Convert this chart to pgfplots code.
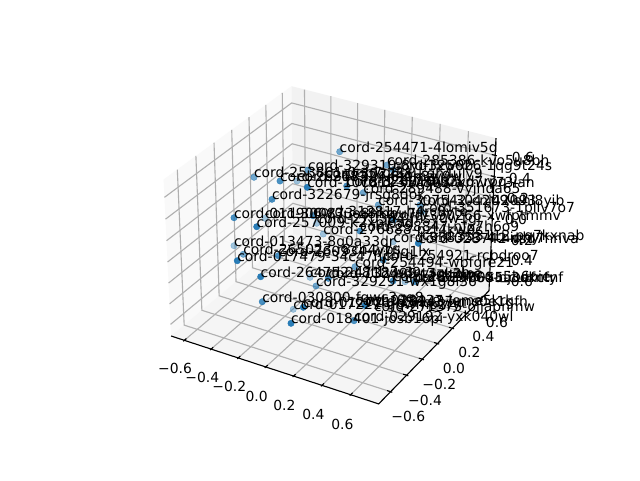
\documentclass[border=0pt]{standalone}
\usepackage{fontspec}
\setmainfont{DejaVu Sans}
\usepackage{pgfplots}
\usepackage{pgfplotstable}
\pgfplotsset{compat=1.18}
\definecolor{tabblue}{HTML}{1F77B4}
\definecolor{gridc}{HTML}{B0B0B0}
% Scatter points: pixel x, pixel y, label. One table per depth shade.
\pgfplotstableread{
x y label
237.3 260.7 cord-017479-34c47hjk
256.7 226.7 cord-257009-k2xpl6ad
260.7 276.7 cord-264752-c8t1vw3r
291 323.3 cord-018401-josb16pi
303.3 307.3 cord-012721-d5nq8yzu
307.3 187.3 cord-107812-ywnjh3ia
365 305.5 cord-292437-ms0e1gfh
418.3 243.3 cord-028742-vsd7hnva
}\ptsA
\pgfplotstableread{
x y label
280 181 cord-263172-hv8xtk3y
272 199.3 cord-322679-jrsg8dok
234 217.7 cord-011906-z3uo8nkq
313 215.7 cord-312817-h4rc9vte
360 231 cord-298847-nfx7h6o9
278.3 255.7 cord-260934-w7fjq1lx
383.3 260 cord-254921-rcbdroo7
328.3 278.3 cord-132495-t7gk2lpe
393 281 cord-281946-xa5b6oie
415 281.7 cord-346055-cutfntnf
262.3 301.7 cord-030800-fqwc3qq8
354 320.7 cord-029192-yxk040wl
346.7 186 cord-328910-b2kd7rpq
393.3 220 cord-390266-xwfptmmv
}\ptsB
\pgfplotstableread{
x y label
339.7 151.7 cord-254471-4lomiv5d
254 177.3 cord-253801-0ab7ql2x
308 170 cord-329310-8yd1xw9b
387 165 cord-285386-kvo5u8bh
393 170 cord-325626-1qg9t24s
363.3 192.7 cord-289488-vyjnda65
378.3 205 cord-307542-cnj42093
420 205 cord-304209-ehl8yib
421.7 211.7 cord-351673-1pllv7o7
243.3 254.3 cord-265023-r8cn4ybs
355 266.7 cord-254494-wbfgre21
316 286 cord-329291-wx1g8i36
}\ptsC
\pgfplotstableread{
x y label
297 181 cord-268324-6f0mzy9w
265 218.3 cord-300873-q8mbu7fy
316.7 223.3 cord-270364-msy0w1gj
323.3 234 cord-276688-pzt4kw0c
234 245.7 cord-013473-8q0a33dr
393.3 241.7 cord-338353-4thiqhyl
310 277.3 cord-247183-d9vszuab
405 281.7 cord-319760-nj3ekcfy
293.3 309.3 cord-017221-g6wmo2ry
}\ptsD
% Texts standing at their positions with no visible point of their own.
\pgfplotstableread{
x y label
325 178 cord-302251-kqh4uly9
361 187 cord-317809-wmvv73ian
422 240 cord-353112-pq7kxnab
355 304.5 cord-028437-lome5krk
374 311 cord-271375-ojjapnmw
}\ptsE
\pgfplotstableread{
x y label
175 368 −0.6
202.3 377 −0.4
229.3 386 −0.2
256.7 396 0.0
284.3 405.3 0.2
313.3 414 0.4
342.3 424 0.6
408.3 416.7 −0.6
425 400 −0.4
439.3 384.3 −0.2
454 368.3 0.0
469.3 352.3 0.2
483.3 336.7 0.4
497 322 0.6
516 281 −0.6
516 260 −0.4
516 240 −0.2
516 219 0.0
518 198 0.2
520 178 0.4
523 157 0.6
}\ticklabels
\newcommand\pj[4]{%
\pgfmathsetmacro\qx{.5952*(#1)}\pgfmathsetmacro\qy{.5952*(#2)}\pgfmathsetmacro\qz{.4464*(#3)}%
\pgfmathsetmacro\dd{10-(.433013*\qx-.75*\qy+.5*\qz)}%
\pgfmathsetmacro\px{333+1997.8*(.866025*\qx+.5*\qy)/\dd}%
\pgfmathsetmacro\py{237.4-1997.8*(-.25*\qx+.433013*\qy+.866025*\qz)/\dd}%
\expandafter\xdef\csname #4\endcsname{(\px,\py)}}
\newcommand\polyl[7]{\pj{#2}{#3}{#4}{ptA}\pj{#5}{#6}{#7}{ptB}%
\edef\temp{\noexpand\addplot[#1] coordinates {\ptA\ptB};}\temp}
\newcommand\polyt[4]{\pj#2{ptA}\pj#3{ptB}\pj#4{ptC}%
\edef\temp{\noexpand\addplot[#1] coordinates {\ptA\ptB\ptC};}\temp}
\newcommand\scatterpts[2]{\addplot[only marks, mark=*, mark size=3.2pt,
  mark options={draw=tabblue, fill=tabblue, opacity=#2}] table[x=x,y=y] {#1};}
\newcommand\labs[1]{\addplot[draw=none, mark=none, point meta=explicit symbolic,
  nodes near coords, nodes near coords style={anchor=base west, inner sep=0pt, outer sep=0pt, text=black, yshift=-0.5pt}]
  table[x=x,y=y,meta=label] {#1};}
\begin{document}
\begin{tikzpicture}[x=1pt,y=1pt]
\path[use as bounding box, fill=white] (0,0) rectangle (640,480);
\begin{axis}[at={(0,0)}, anchor=south west, scale only axis, width=640pt, height=480pt,
  hide axis, xmin=0, xmax=640, ymin=0, ymax=480, y dir=reverse, clip=false,
  every axis plot/.append style={line cap=butt},
  font=\fontsize{13.89}{16}\selectfont]
\addplot[fill=black!2.5, draw=none] coordinates {(171.1,336)(293.2,233.8)(291.5,86.2)(163.6,179.5)} --cycle;
\addplot[fill=black!5, draw=none] coordinates {(293.2,233.8)(489,290.7)(496,138.1)(291.5,86.2)} --cycle;
\addplot[fill=black!3.75, draw=none] coordinates {(171.1,336)(378.7,403.9)(489,290.7)(293.2,233.8)} --cycle;
\pgfplotsinvokeforeach{-.8666,-.5985,-.3304,-.0623,.2057,.4738,.7420}{
  \polyt{gridc,line width=1.11pt}{{#1}{-1}{-1}}{{#1}{1}{-1}}{{#1}{1}{1}}
}
\pgfplotsinvokeforeach{-.802,-.5277,-.2534,.021,.2953,.5697,.844}{
  \polyt{gridc,line width=1.11pt}{{1}{#1}{-1}}{{-1}{#1}{-1}}{{-1}{#1}{1}}
}
\pgfplotsinvokeforeach{-.844,-.5732,-.3022,-.0312,.2398,.5108,.7818}{
  \polyt{gridc,line width=1.11pt}{{-1}{-1}{#1}}{{-1}{1}{#1}}{{1}{1}{#1}}
}
\addplot[black, line width=1.11pt] coordinates {(171.1,336)(378.7,403.9)(489,290.7)(496,138.1)};
\pgfplotsinvokeforeach{-.8666,-.5985,-.3304,-.0623,.2057,.4738,.7420}{
  \polyl{black,line width=1.11pt}{#1}{-.968}{-1}{#1}{-1.016}{-1}
}
\pgfplotsinvokeforeach{-.802,-.5277,-.2534,.021,.2953,.5697,.844}{
  \polyl{black,line width=1.11pt}{.968}{#1}{-1}{1.016}{#1}{-1}
}
\pgfplotsinvokeforeach{-.844,-.5732,-.3022,-.0312,.2398,.5108,.7818}{
  \polyl{black,line width=1.11pt}{.968}{1}{#1}{1.016}{1}{#1}
}
\scatterpts{\ptsD}{0.4}
\scatterpts{\ptsC}{0.62}
\scatterpts{\ptsB}{0.8}
\scatterpts{\ptsA}{0.95}
\labs{\ptsD}
\labs{\ptsC}
\labs{\ptsB}
\labs{\ptsA}
\labs{\ptsE}
\addplot[draw=none, mark=none, point meta=explicit symbolic,
  nodes near coords, nodes near coords style={anchor=center, inner sep=0pt, outer sep=0pt, text=black}]
  table[x=x,y=y,meta=label] {\ticklabels};
\end{axis}
\end{tikzpicture}
\end{document}
